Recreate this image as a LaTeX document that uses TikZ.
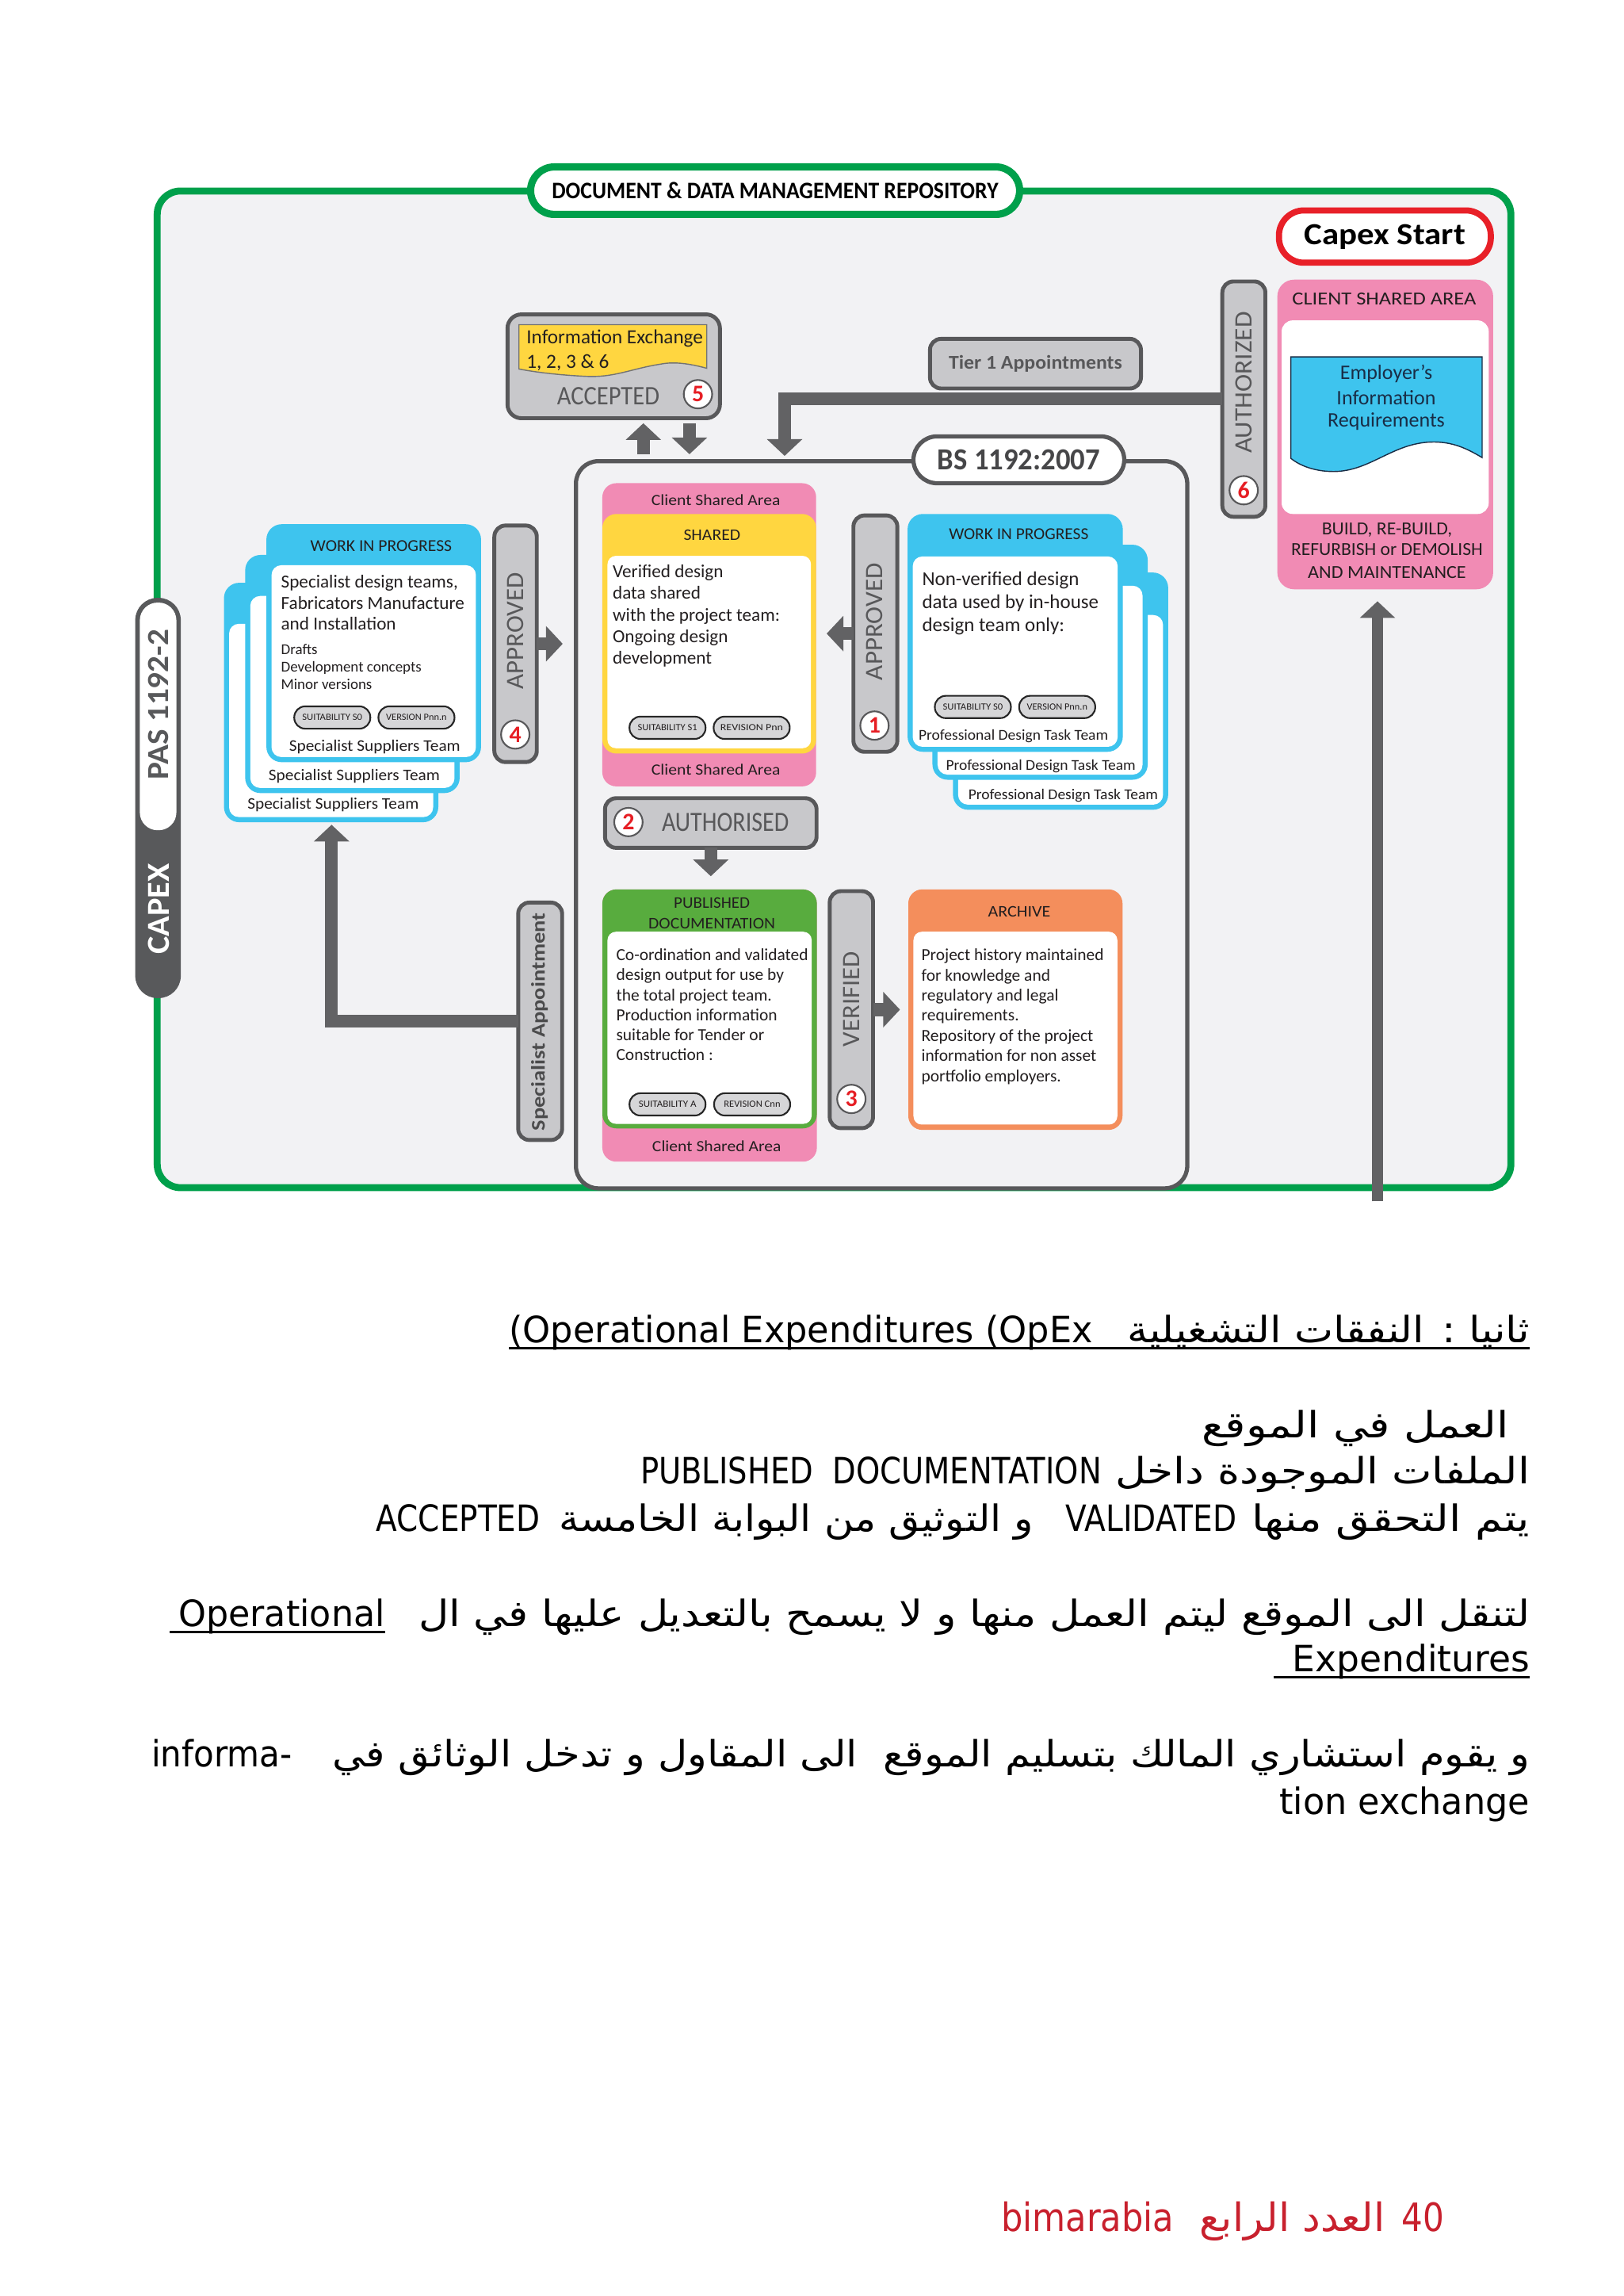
\documentclass[tikz,border=0pt]{standalone}
\usepackage{fontspec}
\usepackage{graphicx}
\usetikzlibrary{arrows.meta}
\setmainfont{Carlito}
\newfontfamily\arfont[Script=Arabic]{DejaVu Sans}
\newfontfamily\latf{DejaVu Sans}
\TeXXeTstate=1
\newlength\U
\setlength\U{0.018467cm}
\newcommand\fitw[2]{\resizebox{#1\U}{\height}{#2}}
\newcommand\fsz[1]{\fontsize{#1}{#1}\selectfont}
\newcommand\bx[7][]{\node[#1, minimum width={((#5)-(#3))*0.52544pt}, minimum height={((#6)-(#4))*0.52544pt}] (#2) at ({((#3)+(#5))/2},{((#4)+(#6))/2}) {#7};}
\definecolor{bggray}{RGB}{242,242,244}
\definecolor{frgreen}{RGB}{0,160,75}
\definecolor{capred}{RGB}{232,32,40}
\definecolor{pinkc}{RGB}{241,139,180}
\definecolor{yel}{RGB}{255,214,64}
\definecolor{wipblue}{RGB}{62,196,238}
\definecolor{pubgreen}{RGB}{88,172,62}
\definecolor{archor}{RGB}{244,142,92}
\definecolor{boxgray}{RGB}{200,200,203}
\definecolor{boxedge}{RGB}{88,88,90}
\definecolor{arrowgray}{RGB}{98,98,100}
\definecolor{labelgray}{RGB}{88,88,90}
\definecolor{numred}{RGB}{230,30,36}
\definecolor{pasdark}{RGB}{88,89,91}
\definecolor{taggray}{RGB}{214,214,216}
\definecolor{txt}{RGB}{35,31,32}
\definecolor{docnavy}{RGB}{25,45,70}
\definecolor{footred}{RGB}{200,32,45}
\begin{document}
\begin{tikzpicture}[x=0.018467cm,y=-0.018467cm,
  every node/.style={inner sep=0pt,outer sep=0pt},
  gbox/.style={fill=boxgray,draw=boxedge,line width=1.4pt,rounded corners=4pt},
  numc/.style={circle,fill=white,draw=boxedge,line width=0.6pt,minimum size=10.2pt,text=numred,font=\bfseries\fsz{8.5}},
  tagp/.style={fill=taggray,draw=black!85,line width=0.6pt,rounded corners=3.9pt,minimum width=27.3pt,minimum height=8pt,text=txt,font=\fsz{3.4}},
  bigarr/.style={draw=arrowgray,line width=4.6pt,-{Triangle[width=12.4pt,length=6pt]}},
  vlab/.style={rotate=90,text=labelgray,font=\fsz{9}},
  cardbox/.style={fill=wipblue,rounded corners=5.5pt},
  body/.style={anchor=base west,text=txt},
  lab/.style={text=txt}]
\useasboundingbox (0,0) rectangle (1109,1568);
\fill[white] (0,0) rectangle (1109,1568);

% frame and title
\bx[draw=frgreen,fill=bggray,line width=2.5pt,rounded corners=8.4pt]{frame}{107.5}{130.5}{1032}{811}{}
\bx[draw=frgreen,fill=white,line width=2.6pt,rounded corners=8.5pt]{title}{362.5}{114}{696.5}{146.4}{\fitw{305}{\bfseries\fsz{8.5}DOCUMENT \& DATA MANAGEMENT REPOSITORY}}

% capex start and client area
\bx[draw=capred,fill=white,line width=2.2pt,rounded corners=9pt]{capex}{873.7}{143.7}{1018.4}{179.4}{\fitw{110}{\bfseries\fsz{11}Capex Start}}
\bx[fill=pinkc,rounded corners=6pt]{client}{872.6}{191}{1020}{402.4}{}
\fill[white,rounded corners=4pt] (875.5,218.8) rectangle (1017,351);
\node[lab,font=\fsz{6.6}] (clienthdr) at (945.6,204) {\fitw{125.6}{CLIENT SHARED AREA}};
\filldraw[fill=wipblue,draw=docnavy,line width=0.4pt] (881.8,243.7) -- (1012.5,243.7) -- (1012.5,312.5)
  .. controls (1000,305) and (990,301) .. (975,302)
  .. controls (950,304) and (935,322) .. (911,322)
  .. controls (898,322) and (888,318) .. (881.8,313) -- cycle;
\node[text=docnavy,font=\fsz{7.4}] (eir1) at (947,255.4) {Employer’s};
\node[text=docnavy,font=\fsz{7.4}] (eir2) at (947,271.7) {Information};
\node[text=docnavy,font=\fsz{7.4}] (eir3) at (947,287.9) {Requirements};
\node[lab,font=\fsz{6.6}] (cb1) at (947.5,361.9) {\fitw{89}{BUILD, RE-BUILD,}};
\node[lab,font=\fsz{6.6}] (cb2) at (947.5,375.4) {\fitw{131}{REFURBISH or DEMOLISH}};
\node[lab,font=\fsz{6.6}] (cb3) at (947.5,390.8) {\fitw{108}{AND MAINTENANCE}};

% authorized 6
\bx[gbox]{auth}{835}{192.2}{864.4}{352.9}{}
\node[vlab] (authtxt) at (849.6,261.3) {\fitw{96.6}{AUTHORIZED}};
\node[numc] (n6) at (849.6,334.8) {6};

% tier 1
\bx[gbox]{tier1}{635.3}{231.4}{779.4}{265.3}{\textcolor{labelgray}{\fitw{118.5}{\bfseries\fsz{7}Tier 1 Appointments}}}

% information exchange
\bx[gbox,rounded corners=5pt]{infox}{346.7}{214.7}{491.8}{285.6}{}
\filldraw[fill=yel,draw=black!55,line width=0.4pt] (354.5,221.7) -- (482.8,221.7) -- (482.8,251.5)
  .. controls (470,248) and (460,247) .. (451.6,248.6)
  .. controls (430,252) and (420,258) .. (400,257)
  .. controls (380,256) and (365,254) .. (354.5,252) -- cycle;
\node[anchor=west,text=txt,font=\fsz{7.2}] (ie1) at (359.7,231) {\fitw{120.5}{Information Exchange}};
\node[anchor=west,text=txt,font=\fsz{7.2}] (ie2) at (359.7,247.6) {1, 2, 3 \& 6};
\node[text=labelgray,font=\fsz{9.6}] (acc) at (415.5,270.4) {\fitw{70}{ACCEPTED}};
\node[numc] (n5) at (476.8,269.2) {5};

% BS 1192 container
\bx[draw=boxedge,fill=bggray,line width=1.5pt,rounded corners=8pt]{bs}{393.5}{315}{811}{811.5}{}
\bx[draw=boxedge,fill=white,line width=1.5pt,rounded corners=8.5pt]{bslabel}{624}{298}{768}{330}{\textcolor{boxedge!80!black}{\fitw{111}{\bfseries\fsz{11}BS 1192:2007}}}

% shared
\bx[fill=pinkc,rounded corners=5pt]{shared}{411.5}{330}{557.5}{537}{}
\fill[yel,rounded corners=5pt] (411.5,351) rectangle (557.5,514.6);
\fill[white,rounded corners=3pt] (415,379.6) rectangle (554,511);
\node[lab,font=\fsz{5.6}] (csa1) at (489,341.3) {\fitw{88}{Client Shared Area}};
\node[lab,font=\fsz{5.6}] (csa2) at (489,525.6) {\fitw{88}{Client Shared Area}};
\node[lab,font=\fsz{5.8}] (shhdr) at (486.4,365.5) {\fitw{38.8}{SHARED}};
\foreach \t [count=\i from 0] in {Verified design, data shared, with the project team:, Ongoing design, development}
  \node[body,font=\fsz{6.6}] (sht\i) at (418.6,{394.4+14.8*\i}) {\t};
\node[tagp] (tgs1) at (456,497) {\fitw{40.7}{SUITABILITY S1}};
\node[tagp] (tgs2) at (513.5,497) {\fitw{42.8}{REVISION Pnn}};

% approved 1
\bx[gbox]{appr1}{583}{352}{613}{513.4}{}
\node[vlab] (a1txt) at (597.4,424.6) {\fitw{80}{APPROVED}};
\node[numc] (n1) at (597.4,495.5) {1};

% professional WIP stack
\bx[cardbox]{pro3}{651}{391}{798}{553}{}
\fill[white,rounded corners=3.5pt] (654.5,420) rectangle (794.5,549.5);
\node[lab,font=\fsz{5.4}] (pro3lab) at (726.3,543.3) {\fitw{129.5}{Professional Design Task Team}};
\bx[cardbox]{pro2}{637}{372}{784}{532.5}{}
\fill[white,rounded corners=3.5pt] (640.5,400) rectangle (780.5,529);
\node[lab,font=\fsz{5.4}] (pro2lab) at (711,523.5) {\fitw{129.5}{Professional Design Task Team}};
\bx[cardbox]{pro1}{620}{351}{767}{513.4}{}
\fill[white,rounded corners=3.5pt] (623.5,380) rectangle (763.5,510);
\node[lab,font=\fsz{6}] (pro1hdr) at (695.9,365) {\fitw{95.3}{WORK IN PROGRESS}};
\node[lab,font=\fsz{5.4}] (pro1lab) at (692.3,502.6) {\fitw{129.5}{Professional Design Task Team}};
\foreach \t [count=\i from 0] in {Non-verified design, data used by in-house, design team only:}
  \node[body,font=\fsz{7.1}] (prot\i) at (630,{399.6+15.8*\i}) {\t};
\node[tagp] (tgp1) at (664.6,482.8) {\fitw{41}{SUITABILITY S0}};
\node[tagp] (tgp2) at (722.2,482.8) {\fitw{41.4}{VERSION Pnn.n}};

% authorised 2
\bx[gbox]{auth2}{413.3}{545.1}{557.8}{579}{}
\node[numc] (n2) at (429.3,561.4) {2};
\node[text=labelgray,font=\fsz{10}] (a2txt) at (495.5,561.4) {\fitw{86.8}{AUTHORISED}};

% published
\bx[fill=pinkc,rounded corners=5pt]{pub}{411.5}{607.4}{558}{793.3}{}
\fill[pubgreen,rounded corners=5pt] (411.5,607.4) rectangle (558,770.6);
\fill[white,rounded corners=3pt] (415,636.3) rectangle (554.5,767.5);
\node[lab,font=\fsz{5.8}] (pubh1) at (486.3,616.9) {\fitw{52}{PUBLISHED}};
\node[lab,font=\fsz{5.8}] (pubh2) at (486.3,630.9) {\fitw{86.6}{DOCUMENTATION}};
\node[lab,font=\fsz{5.6}] (csa3) at (489.6,782.5) {\fitw{88}{Client Shared Area}};
\foreach \t [count=\i from 0] in {Co-ordination and validated, design output for use by, the total project team., Production information, suitable for Tender or, Construction :}
  \node[body,font=\fsz{6.1}] (pubt\i) at (421,{656.1+13.6*\i}) {\t};
\node[tagp] (tga1) at (456,754.2) {\fitw{39.4}{SUITABILITY A}};
\node[tagp] (tga2) at (513.8,754.2) {\fitw{38.6}{REVISION Cnn}};

% verified 3
\bx[gbox]{ver3}{566.8}{608.6}{596.4}{770.4}{}
\node[vlab] (v3txt) at (581.6,682.3) {\fitw{65}{VERIFIED}};
\node[numc] (n3) at (581.6,750.5) {3};

% archive
\bx[fill=archor,rounded corners=5pt]{arch}{620.5}{607.4}{766.8}{771.6}{}
\fill[white,rounded corners=3pt] (624,636.3) rectangle (763.3,768);
\node[lab,font=\fsz{5.8}] (archhdr) at (696.3,622.7) {\fitw{42.7}{ARCHIVE}};
\foreach \t [count=\i from 0] in {Project history maintained, for knowledge and, regulatory and legal, requirements., Repository of the project, information for non asset, portfolio employers.}
  \node[body,font=\fsz{6.1}] (archt\i) at (629.5,{656.1+13.75*\i}) {\t};

% specialist WIP stack
\bx[cardbox]{ss3}{153}{398}{299.4}{561.5}{}
\fill[white,rounded corners=3.5pt] (156.5,426) rectangle (295.9,558);
\node[lab,font=\fsz{5.8}] (ss3lab) at (227.6,549.7) {\fitw{117}{Specialist Suppliers Team}};
\bx[cardbox]{ss2}{167.5}{379}{314}{541.6}{}
\fill[white,rounded corners=3.5pt] (171,407) rectangle (310.5,538.1);
\node[lab,font=\fsz{5.8}] (ss2lab) at (242,530) {\fitw{117}{Specialist Suppliers Team}};
\bx[cardbox]{ss1}{182}{358}{328.6}{520.5}{}
\fill[white,rounded corners=3.5pt] (185.5,386) rectangle (325.1,517);
\node[lab,font=\fsz{6}] (ss1hdr) at (260.4,373) {\fitw{96.6}{WORK IN PROGRESS}};
\node[lab,font=\fsz{5.8}] (ss1lab) at (256,510) {\fitw{117}{Specialist Suppliers Team}};
\foreach \t [count=\i from 0] in {{Specialist design teams,}, Fabricators Manufacture, and Installation}
  \node[body,font=\fsz{6.6}] (sst\i) at (192,{401.4+14.5*\i}) {\t};
\foreach \t [count=\i from 0] in {Drafts, Development concepts, Minor versions}
  \node[body,font=\fsz{5.4}] (sss\i) at (192,{447+12*\i}) {\t};
\node[tagp] (tgw1) at (227,490) {\fitw{41}{SUITABILITY S0}};
\node[tagp] (tgw2) at (284.5,490) {\fitw{41.4}{VERSION Pnn.n}};

% approved 4
\bx[gbox]{appr4}{337.7}{358.9}{366.7}{520.4}{}
\node[vlab] (a4txt) at (352,431) {\fitw{79.7}{APPROVED}};
\node[numc] (n4) at (352,501.6) {4};

% PAS / CAPEX
\bx[fill=pasdark,rounded corners=8pt]{pas}{92.4}{408.3}{123.5}{681.6}{}
\fill[white,rounded corners=6.4pt] (95.5,411.5) rectangle (120.5,567);
\node[rotate=90,text=pasdark,font=\bfseries\fsz{11}] (pastxt) at (108.5,481.2) {\fitw{103}{PAS 1192-2}};
\node[rotate=90,text=white,font=\bfseries\fsz{11.5}] (capextxt) at (108.5,620.7) {\fitw{62}{CAPEX}};

% specialist appointment
\bx[gbox]{spapp}{354}{616.4}{384}{778.5}{}
\node[rotate=90,text=boxedge!85!black,font=\bfseries\fsz{7}] (spatxt) at (368.5,697.9) {\fitw{148.7}{Specialist Appointment}};

% connectors
\coordinate (bigx) at (536,0);
\coordinate (upx) at (439.5,0);
\coordinate (dnx) at (471,0);
\coordinate (ssx) at (226.5,0);
\coordinate (a1tip) at (564.7,432.7);
\coordinate (a4tip) at (384.4,439.65);
\coordinate (v3tip) at (614.8,689.5);
\coordinate (a2tip) at (485.55,598.4);
\coordinate (botS) at (941,820.4);
\draw[bigarr] (auth.west) -| ([yshift=1.9pt]bs.north -| bigx);
\draw[bigarr,shorten <=2.5pt] (bs.north -| upx) -- ([yshift=-1.8pt]infox.south -| upx);
\draw[bigarr,shorten <=1.8pt] (infox.south -| dnx) -- ([yshift=2.5pt]bs.north -| dnx);
\draw[bigarr] (appr1.west) -- (a1tip);
\draw[bigarr] (appr4.east) -- (a4tip);
\draw[bigarr] (ver3.east) -- (v3tip);
\draw[bigarr] (auth2.south) -- (a2tip);
\draw[bigarr] (spapp.west) -| ([yshift=-0.9pt]ss3.south -| ssx);
\draw[bigarr,line width=4.2pt] (botS) -- ([yshift=-4.3pt]client.south -| botS);

% lower text
\node[anchor=base west,text=black] (l1lat) at (347.8,917) {\latf\fsz{13}\fitw{398.7}{(Operational Expenditures (OpEx}};
\node[anchor=base east,text=black] (l1ar) at (1045,917) {\arfont\fsz{13}\fitw{275}{\beginR ثانيا : النفقات التشغيلية\endR}};
\draw[line width=0.9pt] ([yshift=-1.9pt]l1lat.base west) -- ([yshift=-1.9pt]l1ar.base east);
\node[anchor=base east,text=black] (l2ar) at (1031,982) {\arfont\fsz{13}\fitw{210}{\beginR العمل في الموقع\endR}};
\node[anchor=base west,text=black] (l3lat) at (437.5,1013.5) {\latf\fsz{13}\fitw{315}{PUBLISHED\ \ DOCUMENTATION}};
\node[anchor=base east,text=black] (l3ar) at (1045,1013.5) {\arfont\fsz{13}\fitw{283}{\beginR الملفات الموجودة داخل\endR}};
\node[anchor=base west,text=black] (l4a) at (257,1046) {\latf\fsz{13}\fitw{112}{ACCEPTED}};
\node[anchor=base west,text=black] (l4b) at (382,1046) {\arfont\fsz{13}\fitw{324}{\beginR و التوثيق من البوابة الخامسة\endR}};
\node[anchor=base west,text=black] (l4c) at (728,1046) {\latf\fsz{13}\fitw{117}{VALIDATED}};
\node[anchor=base east,text=black] (l4d) at (1045,1046) {\arfont\fsz{13}\fitw{190}{\beginR يتم التحقق منها\endR}};
\node[anchor=base west,text=black] (l5lat) at (122,1111) {\latf\fsz{13}\fitw{141}{Operational}};
\draw[line width=0.9pt] ([yshift=-1.9pt]l5lat.base west) ++(-6,0) -- ([yshift=-1.9pt]l5lat.base east);
\node[anchor=base east,text=black] (l5ar) at (1045,1111) {\arfont\fsz{13}\fitw{759}{\beginR لتنقل الى الموقع ليتم العمل منها و لا يسمح بالتعديل عليها في ال\endR}};
\node[anchor=base east,text=black] (l6lat) at (1045,1141.6) {\latf\fsz{13}\fitw{162}{Expenditures}};
\draw[line width=0.9pt] ([yshift=-1.9pt]l6lat.base west) ++(-13,0) -- ([yshift=-1.9pt]l6lat.base east);
\node[anchor=base west,text=black] (l7lat) at (103.5,1206.6) {\latf\fsz{13}\fitw{96}{informa-}};
\node[anchor=base east,text=black] (l7ar) at (1045,1206.6) {\arfont\fsz{13}\fitw{818}{\beginR و يقوم استشاري المالك بتسليم الموقع \ الى المقاول و تدخل الوثائق في\endR}};
\node[anchor=base east,text=black] (l8lat) at (1045,1239) {\latf\fsz{13}\fitw{171}{tion exchange}};

% footer
\node[anchor=base west,text=footred] (fbim) at (684,1524) {\latf\fsz{14}\fitw{118}{bimarabia}};
\node[anchor=base west,text=footred] (far) at (819.6,1524) {\arfont\fsz{14}\fitw{126.4}{\beginR العدد الرابع\endR}};
\node[anchor=base west,text=footred] (f40) at (957.5,1524) {\latf\fsz{14}\fitw{29}{40}};
\end{tikzpicture}
\end{document}
